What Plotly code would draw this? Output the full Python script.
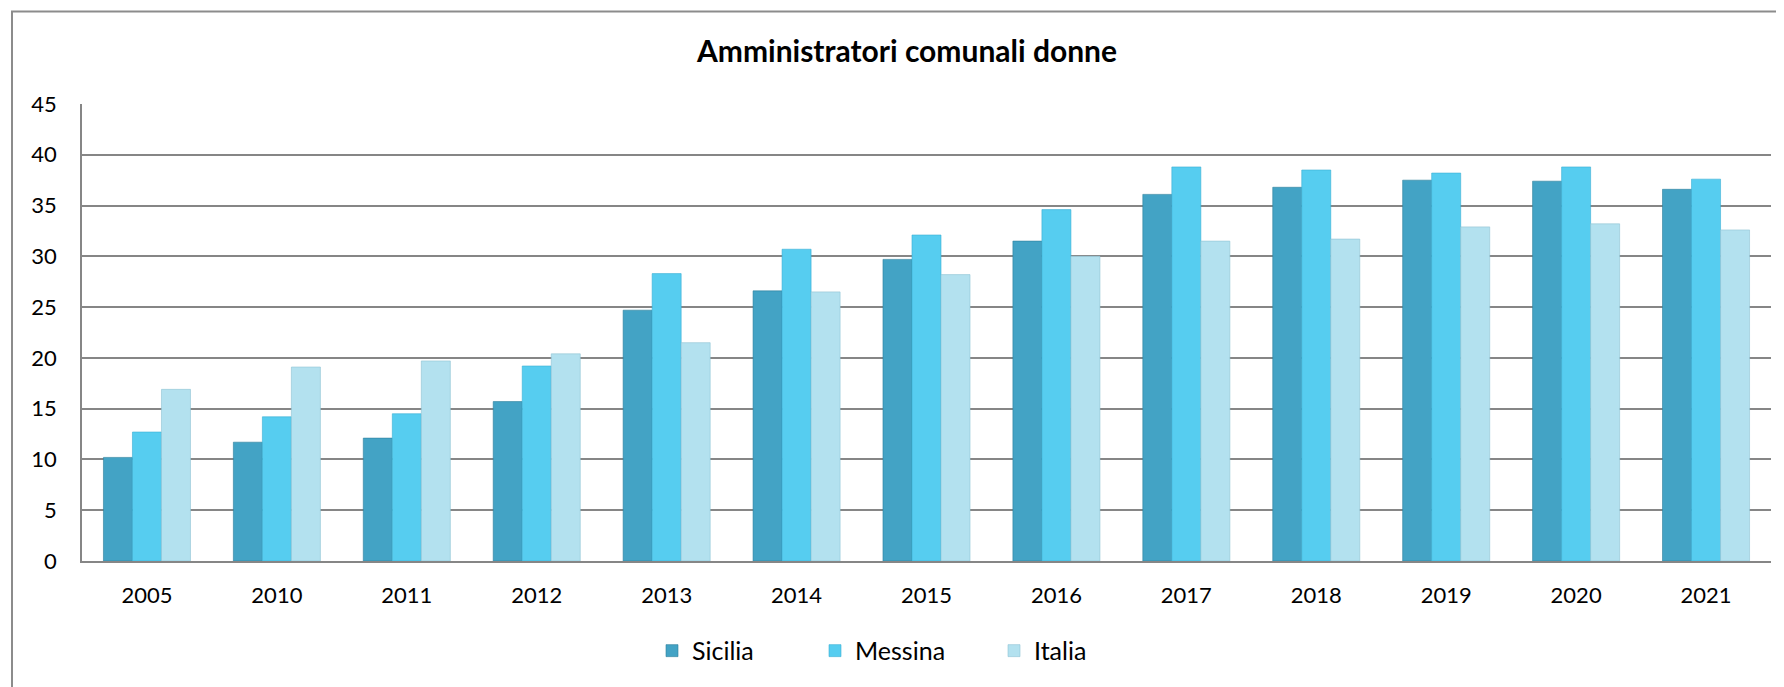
import plotly.graph_objects as go

years = ["2005", "2010", "2011", "2012", "2013", "2014", "2015", "2016", "2017", "2018", "2019", "2020", "2021"]
sicilia = [10.2, 11.7, 12.1, 15.7, 24.7, 26.6, 29.7, 31.5, 36.1, 36.8, 37.5, 37.4, 36.6]
messina = [12.7, 14.2, 14.5, 19.2, 28.3, 30.7, 32.1, 34.6, 38.8, 38.5, 38.2, 38.8, 37.6]
italia = [16.9, 19.1, 19.7, 20.4, 21.5, 26.5, 28.2, 30.0, 31.5, 31.7, 32.9, 33.2, 32.6]

W, H = 1784, 687
OFF = 8  # page body margin
L, R, T, B = 82 - OFF, 1771 - OFF, 103.5 - OFF, 561 - OFF
pw = R - L
ph = B - T

fig = go.Figure()
series = [("Sicilia", sicilia, "#43A3C5", "#2E7F9C", "legend", 671),
          ("Messina", messina, "#56CDF0", "#3AAFD3", "legend2", 834),
          ("Italia", italia, "#B3E1EF", "#8EC3D4", "legend3", 1013)]
legends = {}
for name, vals, col, edge, lg, mx in series:
    fig.add_bar(x=years, y=vals, name=name, legend=lg,
                marker=dict(color=col, line=dict(color=edge, width=0.6)))
    legends[lg] = dict(orientation="h", x=(mx - OFF - 19 - L) / pw, xanchor="left",
                       y=(B - (651 - OFF)) / ph, yanchor="middle",
                       font=dict(family="Lato", size=25, color="#000000"),
                       bgcolor="rgba(0,0,0,0)")

fig.add_shape(type="rect", xref="paper", yref="paper",
              x0=(12 - OFF - L) / pw, x1=(W + 30 - L) / pw,
              y0=(B - (H + 30)) / ph, y1=(B - (11 - OFF)) / ph,
              line=dict(color="#8c8c8c", width=2), fillcolor="rgba(0,0,0,0)", layer="below")

fig.update_layout(
    width=W, height=H,
    margin=dict(l=L, r=W - R, t=T, b=H - B, pad=0),
    paper_bgcolor="white", plot_bgcolor="white",
    barmode="group", bargap=0.33, bargroupgap=0,
    font=dict(family="Lato", size=22, color="#000000"),
    title=dict(text="<b>Amministratori comunali donne</b>",
               x=(907 - OFF) / W, xanchor="center", y=1 - (51 - OFF) / H, yanchor="middle",
               yref="container", font=dict(family="Lato", size=30, color="#000000")),
    showlegend=True,
    **legends,
)
fig.update_yaxes(range=[0, 45], dtick=5, showgrid=True, gridcolor="#868686", gridwidth=1.5,
                 showline=True, linecolor="#868686", linewidth=1.5, zeroline=False,
                 ticks="", ticklabelstandoff=19, tickfont=dict(size=22))
fig.update_xaxes(showline=True, linecolor="#868686", linewidth=1.5, showgrid=False,
                 ticks="", ticklabelstandoff=14, tickfont=dict(size=22))

fig.write_html("out.html")
